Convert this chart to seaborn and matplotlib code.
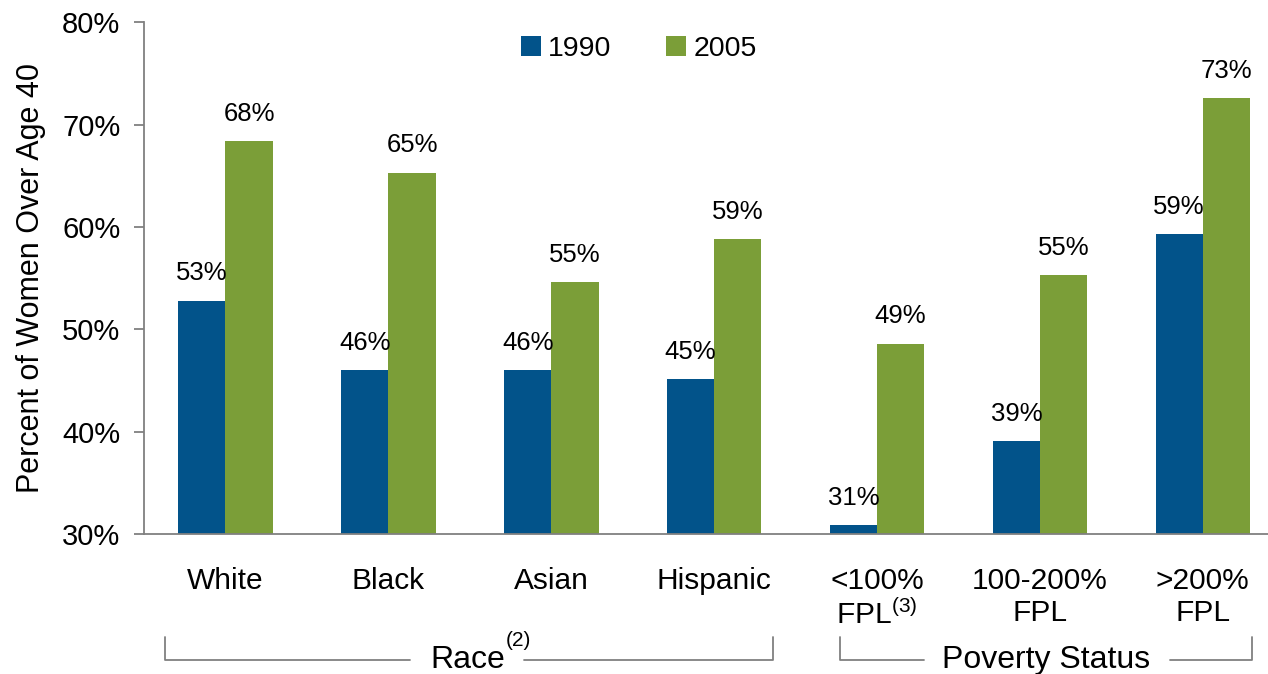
import pandas as pd
import matplotlib
matplotlib.use("Agg")
import matplotlib.pyplot as plt
import matplotlib.transforms as mtransforms
import seaborn as sns

## Mammogram use among women over 40, 1990 vs 2005, by race and poverty status

groups = ["White", "Black", "Asian", "Hispanic", "<100%\nFPL$^{\\rm (3)}$", "100-200%\nFPL", ">200%\nFPL"]
years = ["1990", "2005"]
vals_1990 = [52.8, 46.0, 46.0, 45.1, 30.9, 39.1, 59.3]
vals_2005 = [68.4, 65.3, 54.6, 58.8, 48.6, 55.3, 72.6]
yticks = [30, 40, 50, 60, 70, 80]

df = pd.DataFrame({
    "group": groups * 2,
    "year": ["1990"] * len(groups) + ["2005"] * len(groups),
    "value": vals_1990 + vals_2005,
})

sns.set_style("white")
plt.rcParams["font.family"] = ["Liberation Sans", "DejaVu Sans"]
plt.rcParams["text.color"] = "black"
plt.rcParams["axes.labelcolor"] = "black"
plt.rcParams["xtick.color"] = "black"
plt.rcParams["ytick.color"] = "black"
plt.rcParams["mathtext.fontset"] = "custom"
plt.rcParams["mathtext.rm"] = "Liberation Sans"
plt.rcParams["mathtext.it"] = "Liberation Sans:italic"
plt.rcParams["mathtext.bf"] = "Liberation Sans:bold"

fig = plt.figure(figsize=(12.68, 6.74), dpi=100)
ax = fig.add_axes([0.1136, 0.2077, 0.8864, 0.7593])

sns.barplot(data=df, x="group", y="value", hue="year", order=groups, hue_order=years,
            palette=["#02538A", "#7B9E38"], width=0.58, gap=0, saturation=1,
            linewidth=0, ax=ax)

for c in ax.containers:
    ax.bar_label(c, labels=[f"{v:.0f}%" for v in c.datavalues], padding=11, fontsize=18.5)

ax.set_ylim(30, 80)
ax.set_yticks(yticks)
ax.set_yticklabels([f"{t}%" for t in yticks], fontsize=21)
ax.set_xticks([i - 0.5 for i in range(7)])
ax.set_xticklabels([])
ax.set_xticks(range(7), minor=True)
ax.set_xticklabels(groups, minor=True, fontsize=21.5, linespacing=1.15)
ax.set_xlim(-0.5, 6.4)
ax.tick_params(axis="x", which="major", direction="out", length=7, color="#808080", width=1.3)
ax.tick_params(axis="x", which="minor", length=0, pad=24)
ax.tick_params(axis="y", direction="out", length=7, color="#808080", width=1.3, left=True, pad=10)

for s in ["top", "right"]:
    ax.spines[s].set_visible(False)
for s in ["left", "bottom"]:
    ax.spines[s].set_color("#808080")
    ax.spines[s].set_linewidth(1.3)

ax.set_xlabel("")
ax.set_ylabel("Percent of Women Over Age 40", fontsize=22, labelpad=12)

h, l = ax.get_legend_handles_labels()
ax.get_legend().remove()
ax.legend(h, l, ncol=2, loc="center", bbox_to_anchor=(0.44, 0.948), frameon=False,
          fontsize=20.5, handlelength=0.72, handleheight=0.72, columnspacing=1.9, handletextpad=0.25)

# group brackets under the category labels
trans = mtransforms.blended_transform_factory(ax.transData, fig.transFigure)
y_line = 1 - 660 / 674
y_top = 1 - 637 / 674


def bracket(x0, x1, gap0, gap1, label, xlab, sup=None, xsup=None):
    kw = dict(transform=trans, color="#808080", lw=1.3, clip_on=False)
    ax.plot([x0, x0, gap0], [y_top, y_line, y_line], **kw)
    ax.plot([gap1, x1, x1], [y_line, y_line, y_top], **kw)
    ax.text(xlab, y_line, label, transform=trans, ha="center", va="center", fontsize=23)
    if sup:
        ax.text(xsup, 1 - 640 / 674, sup, transform=trans, ha="left", va="center", fontsize=15)


bracket(-0.369, 3.36, 1.13, 1.83, "Race", 1.487, "(2)", 1.72)
bracket(3.77, 6.30, 4.29, 5.80, "Poverty Status", 5.04)

fig.savefig("out.png", dpi=100)
